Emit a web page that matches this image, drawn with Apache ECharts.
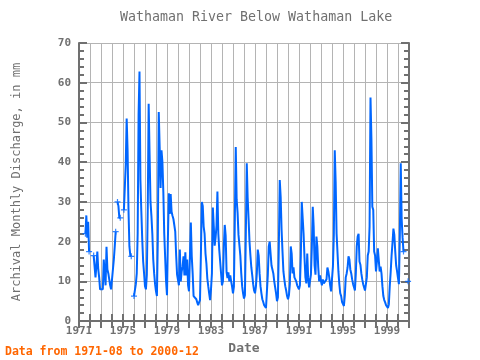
<!DOCTYPE html>
<html><head><meta charset="utf-8">
<script src="https://cdn.jsdelivr.net/npm/echarts@6/dist/echarts.min.js"></script>
<style>html,body{margin:0;padding:0;background:#fff}#c{width:480px;height:360px}</style>
</head><body><div id="c"></div>
<script>
// Monthly discharge (mm), one row per year Jan..Dec, starting 1971
const startYear = 1971;
const discharge = [
/*1971*/ null,null,null,null,null,null,null,22,26.6,21,25,17.5,
/*1972*/ null,null,null,null,16.5,16.3,11,14,17.5,13,11,8,
/*1973*/ 7.5,7.5,8,15.5,12,9,18.7,13,12,10.5,9,8,
/*1974*/ 8,7.5,15.5,18.8,22.5,null,30,29,26,26,null,null,
/*1975*/ null,28,27.5,39.5,51,43,28,18.8,16.5,16.3,null,null,
/*1976*/ 6.3,6.5,9.3,12,22,52,62.8,35.5,27.6,20.5,15,12,
/*1977*/ 8.8,8,11.7,28,54.7,42,30,26.5,22,15.5,12,9.3,
/*1978*/ 7.5,6.3,21,52.6,43.8,33.5,43,40,32.5,22,16,10,
/*1979*/ 6.5,21,32.2,27,32,27.5,26.5,25.7,26,22.5,16.5,11.7,
/*1980*/ 11.7,9,18,10,12.5,13.7,16.3,11.5,17.3,11.5,15.5,9,
/*1981*/ 7.5,7,24.8,16.3,12,6.3,6.3,6.3,5.5,4.7,4,4.7,
/*1982*/ 5.3,17,30,29,23.8,22,17,14.5,10.7,8.8,7,5.3,
/*1983*/ 8,12,28.6,24,19,21,24,32.6,22,18,15,12,
/*1984*/ 9,10,18.8,24.2,21.5,12.3,10.8,12.3,10,11.5,10,8.7,
/*1985*/ 7,8.7,25.5,43.8,30.5,27.3,21.7,21.5,16.5,12,8.8,7,
/*1986*/ 5.7,6.5,21.7,39.7,31,25.7,20,16.5,13.5,11.5,9.3,7.7,
/*1987*/ 7,8.7,12,18,16.5,12,8.8,7,5.5,4.8,4,3.6,
/*1988*/ 3.3,3.5,11.7,18.8,20,19.7,14,13,12,10,8.5,7,
/*1989*/ 5,6,18.8,35.5,31.3,23,17.5,12.5,10.5,8.8,7.7,6.3,
/*1990*/ 5.5,6.5,9.3,18.8,17,12,13.5,11,11,10,9,8.5,
/*1991*/ 8,9,16.5,30,29.6,22,16,11,9.5,17,11,8.5,
/*1992*/ 9,11.7,18.5,28.8,23.8,14,11.7,21.3,18.8,13.5,10,11.5,
/*1993*/ 10,9,10.5,9.5,10,9.5,10.5,13.5,12.5,11,9,7.5,
/*1994*/ 7,13.7,21.7,43,35,22,21.7,12.5,9.3,7,6.3,4.8,
/*1995*/ 4.5,3.8,6.5,11,12,13.5,16.3,15.5,13,12,10.5,9.3,
/*1996*/ 8.5,7.7,12,18.8,21.3,22,15,14.2,12,10.5,9.3,9.3,
/*1997*/ 7.7,7.2,11,16.5,17.5,23.8,56.3,46,28.8,28,17.5,16.5,
/*1998*/ 12.5,15,18.3,18.8,12.5,13.7,12,8.8,6.3,5.3,4.7,4,
/*1999*/ 3.6,3.3,4.2,8.8,12.3,16.5,19.7,23.3,21.7,17.5,14,12.5,
/*2000*/ 10.8,9.3,21.7,39.7,25.7,21,17.5,null,null,null,null,10
];
const xLabelYears = [1971,1975,1979,1983,1987,1991,1995,1999];
const yTickValues = [0,10,20,30,40,50,60,70];
const titleText = 'Wathaman River Below Wathaman Lake';
const yAxisTitle = 'Archival Monthly Discharge, in mm';
const xAxisTitle = 'Date';
const footerText = 'Data from 1971-08 to 2000-12';

const points = discharge.map((v, i) => [startYear + i / 12, v]);
const endPoints = points.filter((p, i) => p[1] != null &&
  (i === 0 || discharge[i - 1] == null || i === discharge.length - 1 || discharge[i + 1] == null));

const gray = '#707070';
const mono = 'DejaVu Sans Mono';
const axisLineStyle = { color: gray, width: 2 };

const chart = echarts.init(document.getElementById('c'), null, { renderer: 'canvas' });
chart.setOption({
  animation: false,
  backgroundColor: '#fff',
  grid: { left: 79, right: 71, top: 43, bottom: 38 },
  graphic: [
    { type: 'text', left: 120, top: 11, style: { text: titleText, fill: gray, font: '13.3px "DejaVu Sans Mono"' } },
    { type: 'text', left: 5, top: 346, style: { text: footerText, fill: '#ff6600', font: 'bold 11.5px "DejaVu Sans Mono"' } }
  ],
  xAxis: [{
    type: 'value', min: 1971, max: 2001, interval: 1, position: 'bottom',
    axisLine: { show: true, lineStyle: axisLineStyle },
    axisTick: { show: true, inside: true, length: 7, lineStyle: axisLineStyle },
    axisLabel: { formatter: v => xLabelYears.includes(Math.round(v)) && Math.abs(v - Math.round(v)) < 1e-6 ? String(Math.round(v)) : '',
      color: gray, fontFamily: mono, fontSize: 11, fontWeight: 'bold', margin: 5 },
    splitLine: { show: true, lineStyle: { color: '#b4b4b4', width: 1 } },
    name: xAxisTitle, nameLocation: 'middle', nameGap: 19,
    nameTextStyle: { color: gray, fontFamily: mono, fontSize: 13, fontWeight: 'bold' }
  }, {
    type: 'value', min: 1971, max: 2001, interval: 1, position: 'top',
    axisLine: { show: true, lineStyle: axisLineStyle },
    axisTick: { show: true, inside: true, length: 7, lineStyle: axisLineStyle },
    axisLabel: { show: false }, splitLine: { show: false }
  }],
  yAxis: [{
    type: 'value', min: 0, max: 70, interval: 10, position: 'left',
    axisLine: { show: true, lineStyle: axisLineStyle },
    axisTick: { show: true, inside: true, length: 8, lineStyle: axisLineStyle },
    minorTick: { show: true, splitNumber: 5, length: 5, lineStyle: axisLineStyle },
    axisLabel: { formatter: v => yTickValues.includes(v) ? String(v) : '', color: gray, fontFamily: mono, fontSize: 11, fontWeight: 'bold', margin: 8 },
    splitLine: { show: true, lineStyle: { color: '#b4b4b4', width: 1 } },
    name: yAxisTitle, nameLocation: 'middle', nameGap: 56, nameRotate: 90,
    nameTextStyle: { color: gray, fontFamily: mono, fontSize: 12 }
  }, {
    type: 'value', min: 0, max: 70, interval: 10, position: 'right',
    axisLine: { show: true, lineStyle: axisLineStyle },
    axisTick: { show: true, inside: true, length: 8, lineStyle: axisLineStyle },
    minorTick: { show: true, splitNumber: 5, length: 5, lineStyle: axisLineStyle },
    axisLabel: { show: false }, splitLine: { show: false }
  }],
  series: [{
    type: 'line', data: points, showSymbol: false, connectNulls: false,
    lineStyle: { color: '#0066ff', width: 2 }, itemStyle: { color: '#0066ff' }, z: 3
  }, {
    type: 'scatter', data: endPoints, symbol: 'path://M2,0H3V2H5V3H3V5H2V3H0V2H2Z', symbolSize: 6,
    itemStyle: { color: '#0066ff' }, z: 4
  }]
});
</script>
</body></html>
